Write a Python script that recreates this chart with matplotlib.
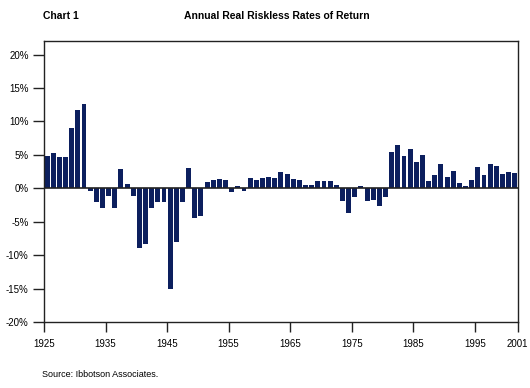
import matplotlib
matplotlib.use("Agg")
from matplotlib import pyplot as plt
import numpy as np

plt.rcParams['font.family'] = ['Liberation Sans', 'DejaVu Sans']

years = list(range(1925, 2002))
rates = [4.8, 5.3, 4.7, 4.7, 9.0, 11.7, 12.6, -0.35, -2.1, -2.9,
         -1.2, -2.9, 2.9, 0.65, -1.2, -8.9, -8.4, -2.9, -2.0, -2.1,
         -15.1, -8.0, -2.1, 3.0, -4.4, -4.2, 0.95, 1.25, 1.4, 1.25,
         -0.5, 0.35, -0.35, 1.55, 1.25, 1.55, 1.7, 1.55, 2.45, 2.15,
         1.4, 1.25, 0.5, 0.5, 1.1, 1.1, 1.1, 0.5, -1.85, -3.7,
         -1.25, 0.35, -1.85, -1.7, -2.7, -1.25, 5.4, 6.5, 4.8, 5.9,
         3.9, 5.0, 1.1, 2.0, 3.6, 1.7, 2.6, 0.8, 0.35, 1.25,
         3.2, 2.0, 3.6, 3.3, 2.1, 2.4, 2.3]
tick_years = ['1925', '1935', '1945', '1955', '1965', '1975', '1985', '1995', '2001']
y_ticks = [-20, -15, -10, -5, 0, 5, 10, 15, 20]

fig = plt.figure(figsize=(5.3, 3.88), dpi=100)
ax = fig.add_axes([0.083, 0.170, 0.894, 0.724])

x = np.arange(len(years)) + 0.5
ax.bar(x, rates, width=0.8, color='#0c1f5e', zorder=2)
ax.axhline(0, color='#222222', lw=1.2, zorder=3)

ax.set_xlim(0, len(years))
ax.set_ylim(-20, 22)
ax.set_xticks([0, 10, 20, 30, 40, 50, 60, 70, len(years)])
ax.set_xticklabels(tick_years)
ax.set_yticks(y_ticks)
ax.set_yticklabels([f'{v}%' for v in y_ticks])
ax.tick_params(axis='x', length=7, width=1, labelsize=7, pad=5, color='#222222')
ax.tick_params(axis='y', length=8, width=1, labelsize=7, pad=3, color='#222222')
for s in ax.spines.values():
    s.set_color('#222222')
    s.set_linewidth(1)

fig.text(0.081, 0.958, 'Chart 1', fontsize=7.5, fontweight='bold', va='center', ha='left')
fig.text(0.522, 0.958, 'Annual Real Riskless Rates of Return', fontsize=7.5,
         fontweight='bold', va='center', ha='center')
fig.text(0.079, 0.034, 'Source: Ibbotson Associates.', fontsize=6.5, va='center', ha='left')

fig.savefig('out.png', dpi=100)
